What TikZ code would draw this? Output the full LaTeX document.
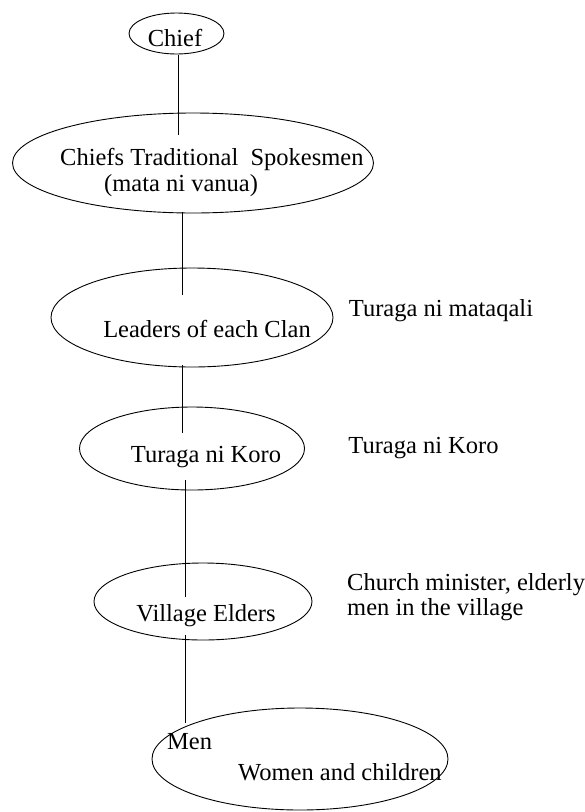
\documentclass[tikz,border=0pt]{standalone}
\usepackage{fontspec}
\setmainfont{Liberation Serif}
\usetikzlibrary{shapes.geometric,calc}
\begin{document}
\begin{tikzpicture}[x=1pt,y=-1pt,
  oval/.style={draw=black,line width=0.9pt,ellipse,inner sep=0pt,outer sep=0pt},
  link/.style={draw=black,line width=1.4pt},
  lbl/.style={inner sep=0pt,font=\fontsize{24.5}{26}\selectfont,text=black}]
\useasboundingbox (0,0) rectangle (585,812);

% hierarchy ovals
\node[oval,minimum width=95pt,minimum height=41pt]  (chief)   at (176.5,33.5) {};
\node[oval,minimum width=361pt,minimum height=100pt] (spokes)  at (193,163) {};
\node[oval,minimum width=282pt,minimum height=99pt]  (clan)    at (192,317.5) {};
\node[oval,minimum width=225pt,minimum height=83pt]  (koro)    at (192,448.5) {};
\node[oval,minimum width=218pt,minimum height=77pt]  (elders)  at (203,601.5) {};
\node[oval,minimum width=296pt,minimum height=102pt] (people)  at (300,759) {};

% labels inside the ovals
\node[lbl,anchor=base] (tchief) at (175,46.5) {Chief};
\node[lbl,anchor=base west] (tspk1) at (60,165.5) {Chiefs Traditional\ \ Spokesmen};
\node[lbl,anchor=base west] (tspk2) at (104,191.5) {(mata ni vanua)};
\node[lbl,anchor=base] (tclan) at (207,337) {Leaders of each Clan};
\node[lbl,anchor=base] (tkoro) at (206,462) {Turaga ni Koro};
\node[lbl,anchor=base] (telders) at (206,621.5) {Village Elders};
\node[lbl,anchor=base west] (tmen) at (167,749) {Men};
\node[lbl,anchor=base west] (twomen) at (238,780.5) {Women and children};

% notes to the right
\node[lbl,anchor=base] (nclan) at (441,316) {Turaga ni mataqali};
\node[lbl,anchor=base] (nkoro) at (423.5,453) {Turaga ni Koro};
\node[lbl,anchor=base west] (nelders1) at (347,590) {Church minister, elderly};
\node[lbl,anchor=base west] (nelders2) at (347,615) {men in the village};

% connector end points (vertical stems, set on pixel centres)
\coordinate (a1) at ($(chief.south)+(2,1)$);
\coordinate (a2) at ($(spokes.north)+(-14.5,22)$);
\coordinate (b1) at ($(spokes.south)+(-10.5,-1)$);
\coordinate (b2) at ($(clan.north)+(-9.5,27)$);
\coordinate (c1) at ($(clan.south)+(-9.5,-2)$);
\coordinate (c2) at ($(koro.north)+(-9.5,26)$);
\coordinate (d1) at ($(koro.south)+(-6.5,-10)$);
\coordinate (d2) at ($(elders.north)+(-17.5,34)$);
\coordinate (e1) at ($(elders.south)+(-17.5,-5)$);
\coordinate (e2) at ($(people.north)+(-114.5,15)$);

\draw[link] (a1) -- (a2);
\draw[link] (b1) -- (b2);
\draw[link] (c1) -- (c2);
\draw[link] (d1) -- (d2);
\draw[link] (e1) -- (e2);
\end{tikzpicture}
\end{document}
